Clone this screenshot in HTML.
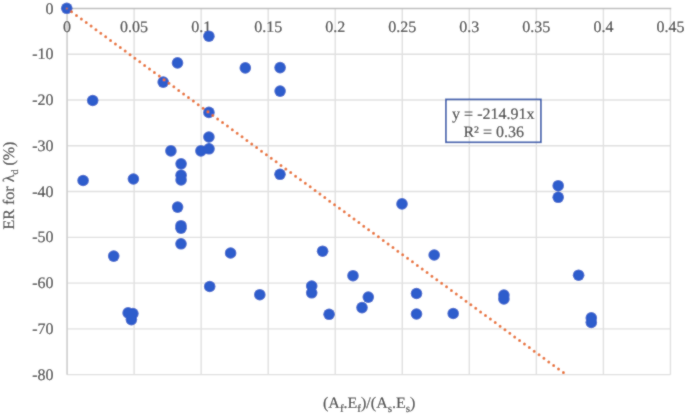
<!DOCTYPE html><html><head><meta charset="utf-8"><style>html,body{margin:0;padding:0;background:#fff;width:685px;height:414px;overflow:hidden}svg{display:block;will-change:transform}text{text-rendering:geometricPrecision;font-family:"Liberation Serif",serif;fill:#424242;stroke:#424242;stroke-width:0.2px}</style></head><body><svg width="685" height="414" viewBox="0 0 685 414"><defs><filter id="b" x="0" y="0" width="685" height="414" filterUnits="userSpaceOnUse"><feConvolveMatrix order="3" kernelMatrix="1 2 1 2 16 2 1 2 1" edgeMode="duplicate" preserveAlpha="true"/></filter></defs><g filter="url(#b)"><rect width="685" height="414" fill="#fff"/><g stroke="#e0e0e0" stroke-width="1.4"><line x1="134.12" y1="8.49" x2="134.12" y2="374.65"/><line x1="201.16" y1="8.49" x2="201.16" y2="374.65"/><line x1="268.20" y1="8.49" x2="268.20" y2="374.65"/><line x1="335.24" y1="8.49" x2="335.24" y2="374.65"/><line x1="402.28" y1="8.49" x2="402.28" y2="374.65"/><line x1="469.32" y1="8.49" x2="469.32" y2="374.65"/><line x1="536.36" y1="8.49" x2="536.36" y2="374.65"/><line x1="603.40" y1="8.49" x2="603.40" y2="374.65"/><line x1="670.44" y1="8.49" x2="670.44" y2="374.65"/><line x1="67.08" y1="54.26" x2="670.44" y2="54.26"/><line x1="67.08" y1="100.03" x2="670.44" y2="100.03"/><line x1="67.08" y1="145.80" x2="670.44" y2="145.80"/><line x1="67.08" y1="191.57" x2="670.44" y2="191.57"/><line x1="67.08" y1="237.34" x2="670.44" y2="237.34"/><line x1="67.08" y1="283.11" x2="670.44" y2="283.11"/><line x1="67.08" y1="328.88" x2="670.44" y2="328.88"/><line x1="67.08" y1="374.65" x2="670.44" y2="374.65"/></g><line x1="67.08" y1="8.49" x2="67.08" y2="374.65" stroke="#cdcdcd" stroke-width="1.6"/><line x1="66.28" y1="8.49" x2="671.24" y2="8.49" stroke="#bdbdbd" stroke-width="1.6"/><g font-size="16"><text x="67.08" y="31.60" text-anchor="middle">0</text><text x="134.12" y="31.60" text-anchor="middle">0.05</text><text x="201.16" y="31.60" text-anchor="middle">0.1</text><text x="268.20" y="31.60" text-anchor="middle">0.15</text><text x="335.24" y="31.60" text-anchor="middle">0.2</text><text x="402.28" y="31.60" text-anchor="middle">0.25</text><text x="469.32" y="31.60" text-anchor="middle">0.3</text><text x="536.36" y="31.60" text-anchor="middle">0.35</text><text x="603.40" y="31.60" text-anchor="middle">0.4</text><text x="670.44" y="31.60" text-anchor="middle">0.45</text><text x="53.50" y="13.59" text-anchor="end">0</text><text x="53.50" y="59.36" text-anchor="end">-10</text><text x="53.50" y="105.13" text-anchor="end">-20</text><text x="53.50" y="150.90" text-anchor="end">-30</text><text x="53.50" y="196.67" text-anchor="end">-40</text><text x="53.50" y="242.44" text-anchor="end">-50</text><text x="53.50" y="288.21" text-anchor="end">-60</text><text x="53.50" y="333.98" text-anchor="end">-70</text><text x="53.50" y="379.75" text-anchor="end">-80</text></g><g fill="#2e5dcc"><circle cx="66.75" cy="8.30" r="5.80"/><circle cx="83.10" cy="180.50" r="5.80"/><circle cx="92.70" cy="100.50" r="5.80"/><circle cx="113.70" cy="256.10" r="5.80"/><circle cx="128.10" cy="312.90" r="5.80"/><circle cx="132.90" cy="313.60" r="5.80"/><circle cx="131.40" cy="319.60" r="5.80"/><circle cx="133.40" cy="179.00" r="5.80"/><circle cx="163.20" cy="82.10" r="5.80"/><circle cx="170.90" cy="150.90" r="5.80"/><circle cx="177.50" cy="62.90" r="5.80"/><circle cx="177.60" cy="207.10" r="5.80"/><circle cx="181.10" cy="163.80" r="5.80"/><circle cx="181.10" cy="175.20" r="5.80"/><circle cx="181.10" cy="179.90" r="5.80"/><circle cx="181.00" cy="225.70" r="5.80"/><circle cx="181.00" cy="228.20" r="5.80"/><circle cx="181.00" cy="243.80" r="5.80"/><circle cx="200.90" cy="150.90" r="5.80"/><circle cx="208.90" cy="36.20" r="5.80"/><circle cx="208.90" cy="112.40" r="5.80"/><circle cx="208.90" cy="137.00" r="5.80"/><circle cx="209.00" cy="148.80" r="5.80"/><circle cx="209.70" cy="286.50" r="5.80"/><circle cx="230.60" cy="253.00" r="5.80"/><circle cx="245.30" cy="67.90" r="5.80"/><circle cx="259.80" cy="294.70" r="5.80"/><circle cx="280.10" cy="67.60" r="5.80"/><circle cx="280.10" cy="91.10" r="5.80"/><circle cx="280.00" cy="174.30" r="5.80"/><circle cx="311.70" cy="286.00" r="5.80"/><circle cx="311.70" cy="292.80" r="5.80"/><circle cx="322.60" cy="251.20" r="5.80"/><circle cx="329.10" cy="314.30" r="5.80"/><circle cx="353.00" cy="275.70" r="5.80"/><circle cx="362.00" cy="307.60" r="5.80"/><circle cx="368.30" cy="297.10" r="5.80"/><circle cx="402.00" cy="203.90" r="5.80"/><circle cx="416.50" cy="293.50" r="5.80"/><circle cx="416.50" cy="314.00" r="5.80"/><circle cx="434.20" cy="255.00" r="5.80"/><circle cx="453.20" cy="313.50" r="5.80"/><circle cx="503.90" cy="295.10" r="5.80"/><circle cx="503.90" cy="298.90" r="5.80"/><circle cx="558.20" cy="185.70" r="5.80"/><circle cx="558.20" cy="197.30" r="5.80"/><circle cx="578.60" cy="275.20" r="5.80"/><circle cx="591.30" cy="317.90" r="5.80"/><circle cx="591.30" cy="322.40" r="5.80"/></g><line x1="67.08" y1="8.49" x2="566.19" y2="374.65" stroke="#e9702a" stroke-width="3.00" stroke-linecap="round" stroke-dasharray="0 6.039" stroke-dashoffset="0.420"/><circle cx="66.83" cy="8.59" r="1.1" fill="#e9702a" opacity="0.75"/><rect x="445.9" y="99.4" width="95.0" height="42.9" fill="none" stroke="#3259ad" stroke-width="1.7"/><text x="493.3" y="118.5" text-anchor="middle" font-size="16">y = -214.91x</text><text x="493.7" y="136.6" text-anchor="middle" font-size="16">R² = 0.36</text><text x="369.2" y="408" text-anchor="middle" font-size="16">(A<tspan font-size="11" dy="4">f</tspan><tspan dy="-4">.E</tspan><tspan font-size="11" dy="4">f</tspan><tspan dy="-4">)/(A</tspan><tspan font-size="11" dy="4">s</tspan><tspan dy="-4">.E</tspan><tspan font-size="11" dy="4">s</tspan><tspan dy="-4">)</tspan></text><text transform="translate(14,185.5) rotate(-90)" text-anchor="middle" font-size="16">ER for λ<tspan font-size="10" dy="4">d</tspan><tspan dy="-4"> (%)</tspan></text></g></svg></body></html>
